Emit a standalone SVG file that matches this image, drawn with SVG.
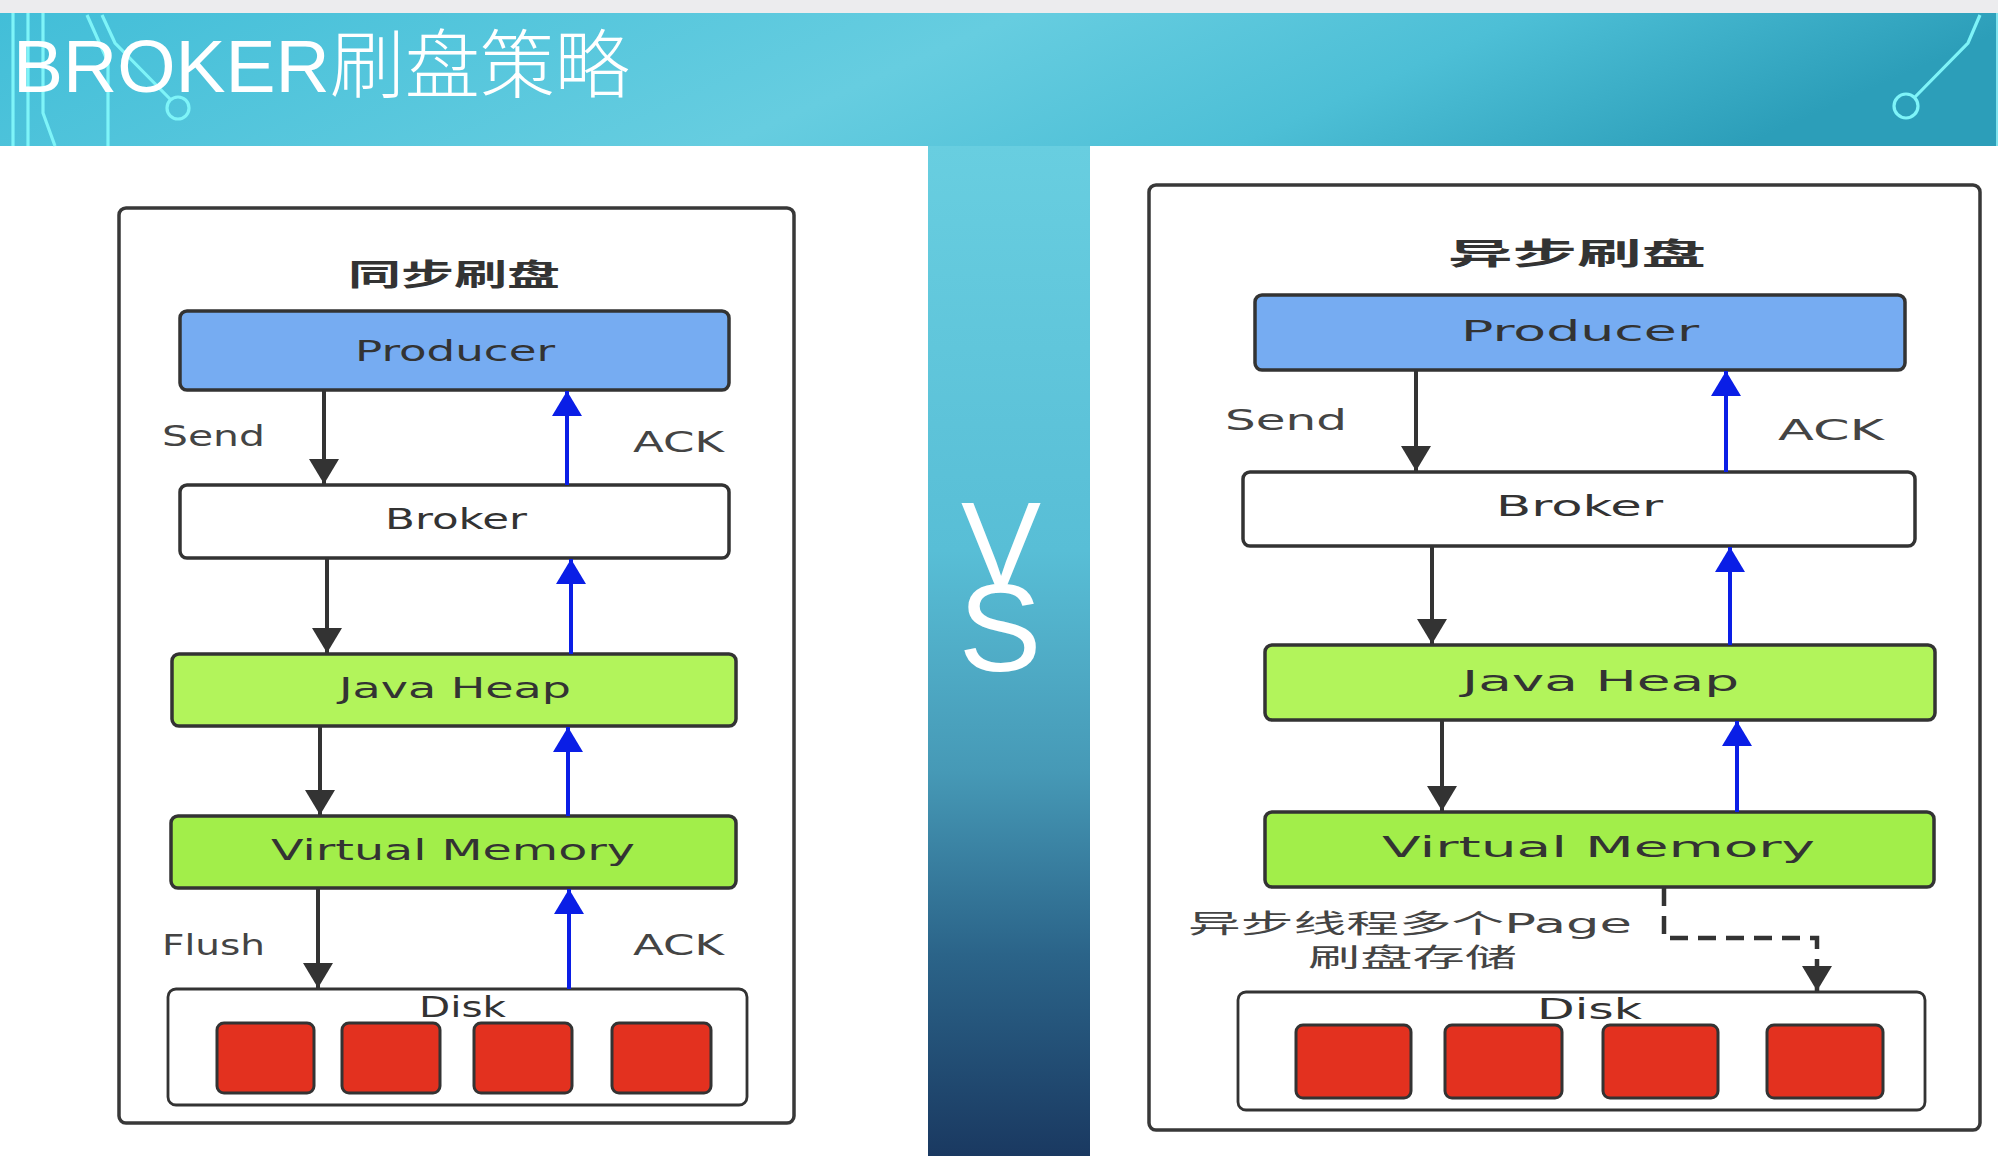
<svg xmlns="http://www.w3.org/2000/svg" width="1998" height="1156" viewBox="0 0 1998 1156">
  <defs>
    <linearGradient id="bannerGrad" x1="0" y1="0" x2="1" y2="0.15">
      <stop offset="0" stop-color="#42bed8"/>
      <stop offset="0.5" stop-color="#66cde0"/>
      <stop offset="0.75" stop-color="#4dbfd6"/>
      <stop offset="1" stop-color="#2c9eb9"/>
    </linearGradient>
    <linearGradient id="stripGrad" x1="0" y1="0" x2="0" y2="1">
      <stop offset="0" stop-color="#68cee0"/>
      <stop offset="0.4" stop-color="#58bed6"/>
      <stop offset="0.62" stop-color="#4699b6"/>
      <stop offset="0.8" stop-color="#2b6489"/>
      <stop offset="1" stop-color="#1a3961"/>
    </linearGradient>
    <marker id="headBlack" markerUnits="userSpaceOnUse" markerWidth="26" markerHeight="30" refX="25" refY="15" orient="auto">
      <path d="M0,0 L25,15 L0,30 Z" fill="#333333"/>
    </marker>
    <marker id="headBlue" markerUnits="userSpaceOnUse" markerWidth="26" markerHeight="30" refX="25" refY="15" orient="auto">
      <path d="M0,0 L25,15 L0,30 Z" fill="#0a1ee6"/>
    </marker>
    <style>
      .frame { fill: #ffffff; stroke: #383838; stroke-width: 3.5; }
      .box { stroke: #333333; stroke-width: 3.5; }
      .producer { fill: #76acf2; }
      .broker { fill: #ffffff; }
      .heap { fill: #b2f45b; }
      .vmem { fill: #a2ee4a; }
      .disk { fill: #ffffff; stroke: #333333; stroke-width: 2.8; }
      .block { fill: #e3311f; stroke: #333333; stroke-width: 3; }
      .deco { fill: none; stroke: #7ef4f8; stroke-width: 3.2; }
      .node-text { font-family: "DejaVu Sans", "Noto Sans", sans-serif; font-size: 29px; fill: #333333; }
      .label { font-family: "DejaVu Sans", "Noto Sans", sans-serif; font-size: 29px; fill: #444444; }
      .cjk-title { font-family: "Noto Sans CJK SC", sans-serif; font-size: 30px; font-weight: bold; fill: #333333; }
      .cjk-label { font-family: "DejaVu Sans", "Noto Sans CJK SC", sans-serif; font-size: 26px; fill: #444444; }
      .flow { fill: none; stroke: #333333; stroke-width: 4; marker-end: url(#headBlack); }
      .ack { fill: none; stroke: #0a1ee6; stroke-width: 4; marker-end: url(#headBlue); }
      .dashed { stroke-dasharray: 18 10; stroke-width: 4.5; }
    </style>
  </defs>

  <!-- page background -->
  <g id="background">
    <rect x="0" y="0" width="1998" height="13" fill="#ececee"/>
    <rect x="0" y="13" width="1998" height="133" fill="url(#bannerGrad)"/>
    <rect x="0" y="146" width="928" height="1010" fill="#ffffff"/>
    <rect x="928" y="146" width="162" height="1010" fill="url(#stripGrad)"/>
    <rect x="1090" y="146" width="908" height="1010" fill="#ffffff"/>
  </g>

  <!-- circuit-style ornaments in the banner -->
  <g id="banner-ornaments">
    <path class="deco" d="M13,13 V146"/>
    <path class="deco" d="M28,13 V146"/>
    <path class="deco" d="M43,13 V113 L55,146"/>
    <path class="deco" d="M87,15 L108,62 V146"/>
    <path class="deco" d="M102,15 L115,43 L171,100"/>
    <circle class="deco" cx="178" cy="108" r="11"/>
    <path class="deco" d="M1980,15 L1968,43 L1914,98"/>
    <circle class="deco" cx="1906" cy="106" r="12"/>
    <path d="M1997,13 V146" stroke="#7fe3ee" stroke-width="2"/>
  </g>

  <g id="title">
    <text x="13" y="92" font-family="Liberation Sans, Noto Sans CJK SC, sans-serif" font-size="75" font-weight="300" fill="#ffffff">BROKER<tspan font-family="Noto Sans CJK SC, sans-serif" font-weight="300">刷盘策略</tspan></text>
  </g>

  <!-- vertical "VS" in the centre strip, letters stacked tightly -->
  <g id="vs">
    <text text-anchor="middle" font-family="Liberation Sans, sans-serif" font-size="120" fill="#ffffff"><tspan x="1001" y="586">V</tspan><tspan x="1000" y="671" font-size="124">S</tspan></text>
  </g>

  <!-- synchronous flush panel -->
  <g id="sync-frame">
    <rect class="frame" x="119" y="208" width="675" height="915" rx="7"/>
    <text class="cjk-title" x="348" y="285" textLength="212" lengthAdjust="spacingAndGlyphs">同步刷盘</text>
  </g>
  <g id="sync-producer">
    <rect class="box producer" x="180" y="311" width="549" height="79" rx="7"/>
    <text class="node-text" x="355" y="361" textLength="200" lengthAdjust="spacingAndGlyphs">Producer</text>
  </g>
  <g id="sync-broker">
    <rect class="box broker" x="180" y="485" width="549" height="73" rx="7"/>
    <text class="node-text" x="385" y="529" textLength="142" lengthAdjust="spacingAndGlyphs">Broker</text>
  </g>
  <g id="sync-heap">
    <rect class="box heap" x="172" y="654" width="564" height="72" rx="7"/>
    <text class="node-text" x="339" y="698" textLength="232" lengthAdjust="spacingAndGlyphs">Java Heap</text>
  </g>
  <g id="sync-vmem">
    <rect class="box vmem" x="171" y="816" width="565" height="72" rx="7"/>
    <text class="node-text" x="271" y="860" textLength="364" lengthAdjust="spacingAndGlyphs">Virtual Memory</text>
  </g>
  <g id="sync-disk">
    <rect class="disk" x="168" y="989" width="579" height="116" rx="8"/>
    <text class="node-text" x="419" y="1017" textLength="87" lengthAdjust="spacingAndGlyphs">Disk</text>
    <rect class="block" x="217" y="1023" width="97" height="70" rx="7"/>
    <rect class="block" x="342" y="1023" width="98" height="70" rx="7"/>
    <rect class="block" x="474" y="1023" width="98" height="70" rx="7"/>
    <rect class="block" x="612" y="1023" width="99" height="70" rx="7"/>
  </g>

  <!-- asynchronous flush panel -->
  <g id="async-frame">
    <rect class="frame" x="1149" y="185" width="831" height="945" rx="7"/>
    <text class="cjk-title" x="1448" y="264" textLength="258" lengthAdjust="spacingAndGlyphs">异步刷盘</text>
  </g>
  <g id="async-producer">
    <rect class="box producer" x="1255" y="295" width="650" height="75" rx="7"/>
    <text class="node-text" x="1461" y="341" textLength="238" lengthAdjust="spacingAndGlyphs">Producer</text>
  </g>
  <g id="async-broker">
    <rect class="box broker" x="1243" y="472" width="672" height="74" rx="7"/>
    <text class="node-text" x="1496" y="516" textLength="167" lengthAdjust="spacingAndGlyphs">Broker</text>
  </g>
  <g id="async-heap">
    <rect class="box heap" x="1265" y="645" width="670" height="75" rx="7"/>
    <text class="node-text" x="1462" y="691" textLength="277" lengthAdjust="spacingAndGlyphs">Java Heap</text>
  </g>
  <g id="async-vmem">
    <rect class="box vmem" x="1265" y="812" width="669" height="75" rx="7"/>
    <text class="node-text" x="1382" y="857" textLength="433" lengthAdjust="spacingAndGlyphs">Virtual Memory</text>
  </g>
  <g id="async-disk">
    <rect class="disk" x="1238" y="992" width="687" height="118" rx="8"/>
    <text class="node-text" x="1537" y="1019" textLength="105" lengthAdjust="spacingAndGlyphs">Disk</text>
    <rect class="block" x="1296" y="1025" width="115" height="73" rx="7"/>
    <rect class="block" x="1445" y="1025" width="117" height="73" rx="7"/>
    <rect class="block" x="1603" y="1025" width="115" height="73" rx="7"/>
    <rect class="block" x="1767" y="1025" width="116" height="73" rx="7"/>
  </g>

  <!-- connectors -->
  <g id="connectors">
    <path class="flow" d="M324,390 V484"/>
    <path class="ack" d="M567,485 V391"/>
    <path class="flow" d="M327,558 V653"/>
    <path class="ack" d="M571,654 V559"/>
    <path class="flow" d="M320,726 V815"/>
    <path class="ack" d="M568,816 V727"/>
    <path class="flow" d="M318,888 V988"/>
    <path class="ack" d="M569,989 V889"/>

    <path class="flow" d="M1416,370 V471"/>
    <path class="ack" d="M1726,472 V371"/>
    <path class="flow" d="M1432,546 V644"/>
    <path class="ack" d="M1730,645 V547"/>
    <path class="flow" d="M1442,720 V811"/>
    <path class="ack" d="M1737,812 V721"/>
    <path class="flow dashed" d="M1664,888 V938 H1817 V991"/>
  </g>

  <!-- connector labels -->
  <g id="connector-labels">
    <text class="label" x="162" y="446" textLength="103" lengthAdjust="spacingAndGlyphs">Send</text>
    <text class="label" x="633" y="452" textLength="91" lengthAdjust="spacingAndGlyphs">ACK</text>
    <text class="label" x="162" y="955" textLength="103" lengthAdjust="spacingAndGlyphs">Flush</text>
    <text class="label" x="633" y="955" textLength="91" lengthAdjust="spacingAndGlyphs">ACK</text>

    <text class="label" x="1225" y="430" textLength="122" lengthAdjust="spacingAndGlyphs">Send</text>
    <text class="label" x="1778" y="440" textLength="106" lengthAdjust="spacingAndGlyphs">ACK</text>
    <text class="cjk-label" x="1188" y="933" textLength="444" lengthAdjust="spacingAndGlyphs">异步线程多个Page</text>
    <text class="cjk-label" x="1308" y="967" textLength="209" lengthAdjust="spacingAndGlyphs">刷盘存储</text>
  </g>
</svg>
